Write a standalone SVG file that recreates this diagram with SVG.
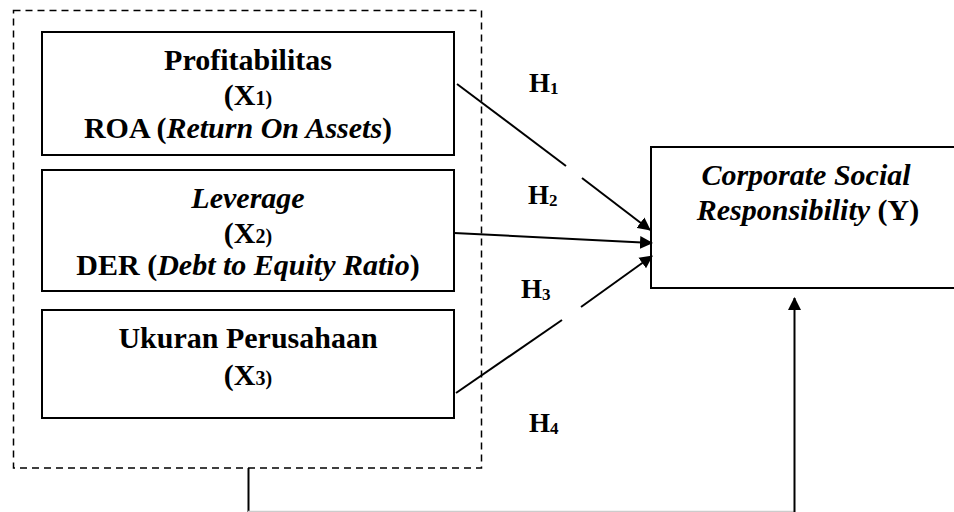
<svg xmlns="http://www.w3.org/2000/svg" width="954" height="512" viewBox="0 0 954 512">
<defs>
<marker id="ah" markerWidth="14" markerHeight="14" refX="12" refY="7" orient="auto" markerUnits="userSpaceOnUse">
<path d="M0,0.5 L13,7 L0,13.5 Z" fill="#000"/>
</marker>
</defs>
<rect width="954" height="512" fill="#fff"/>
<g id="group-x">
<rect x="13.5" y="10.5" width="468" height="457.5" fill="none" stroke="#000" stroke-width="1.5" stroke-dasharray="7,5"/>
</g>
<g font-family="Liberation Serif, Times New Roman, serif" font-size="30" font-weight="bold" fill="#000" text-anchor="middle">
<g id="x1">
<rect x="42" y="32" width="412" height="123" fill="#fff" stroke="#000" stroke-width="2"/>
<text x="248" y="70">Profitabilitas</text>
<text x="248" y="105">(X<tspan font-size="20">1)</tspan></text>
<text x="238" y="138">ROA (<tspan font-style="italic">Return On Assets</tspan>)</text>
</g>
<g id="x2">
<rect x="42" y="170" width="412" height="121" fill="#fff" stroke="#000" stroke-width="2"/>
<text x="248" y="208" font-style="italic">Leverage</text>
<text x="248" y="243">(X<tspan font-size="20">2)</tspan></text>
<text x="248" y="275">DER (<tspan font-style="italic">Debt to Equity Ratio</tspan>)</text>
</g>
<g id="x3">
<rect x="42" y="310" width="412" height="108" fill="#fff" stroke="#000" stroke-width="2"/>
<text x="248" y="348">Ukuran Perusahaan</text>
<text x="248" y="385">(X<tspan font-size="20">3)</tspan></text>
</g>
<g id="y">
<rect x="651" y="147" width="320" height="141" fill="#fff" stroke="#000" stroke-width="2"/>
<text x="806" y="185" font-style="italic">Corporate Social</text>
<text x="808" y="220"><tspan font-style="italic">Responsibility</tspan> (Y)</text>
</g>
<g id="labels" font-size="27" text-anchor="start">
<text x="529" y="92">H<tspan font-size="17" dy="2">1</tspan></text>
<text x="528" y="204">H<tspan font-size="17" dy="2">2</tspan></text>
<text x="521" y="298">H<tspan font-size="17" dy="2">3</tspan></text>
<text x="529" y="432">H<tspan font-size="17" dy="2">4</tspan></text>
</g>
</g>
<g id="connectors" stroke="#000" stroke-width="2" fill="none">
<line x1="457" y1="84" x2="566" y2="166"/>
<line x1="582" y1="178" x2="650" y2="230" marker-end="url(#ah)"/>
<line x1="454" y1="233" x2="652" y2="243" marker-end="url(#ah)"/>
<line x1="456" y1="393" x2="562" y2="320"/>
<line x1="581" y1="307" x2="652" y2="256" marker-end="url(#ah)"/>
<line x1="248.5" y1="468" x2="248.5" y2="512"/>
<line x1="248" y1="511.5" x2="794" y2="511.5" stroke="#ccc" stroke-width="1.5"/>
<line x1="794.5" y1="512" x2="794.5" y2="298" marker-end="url(#ah)"/>
</g>
</svg>
